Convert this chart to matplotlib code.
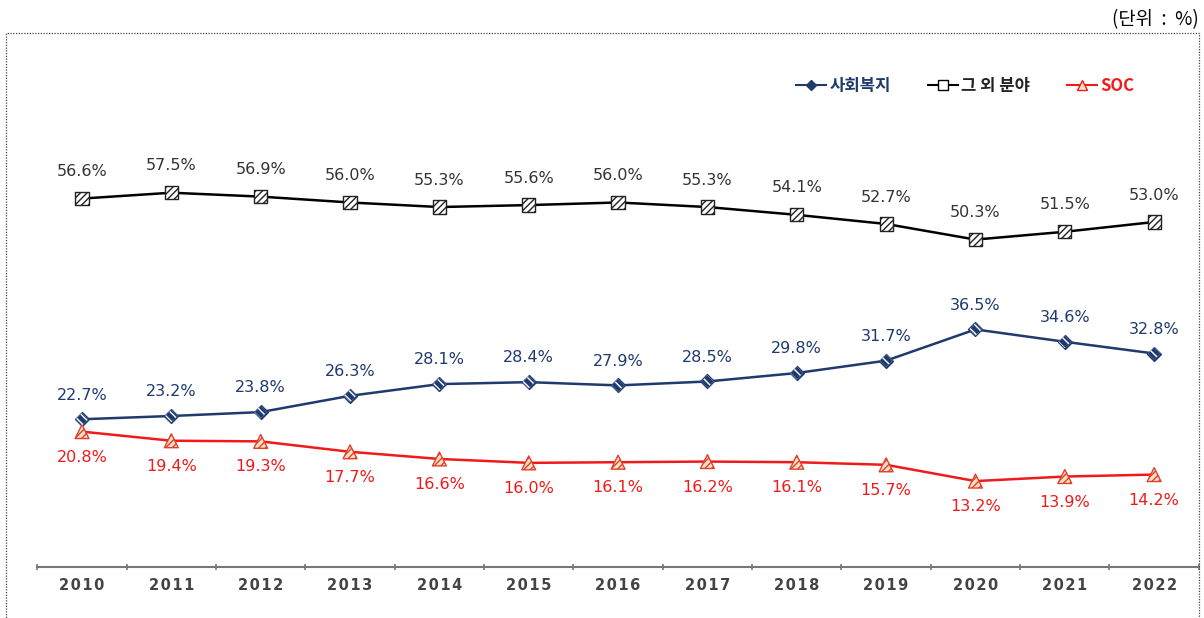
import matplotlib
matplotlib.use('agg')
import matplotlib.pyplot as plt
from matplotlib.patches import Rectangle
from matplotlib.lines import Line2D

plt.rcParams['font.family'] = ['Noto Sans CJK KR', 'DejaVu Sans']
plt.rcParams['hatch.linewidth'] = 1.0

years = [2010, 2011, 2012, 2013, 2014, 2015, 2016, 2017, 2018, 2019, 2020, 2021, 2022]
welfare = [22.7, 23.2, 23.8, 26.3, 28.1, 28.4, 27.9, 28.5, 29.8, 31.7, 36.5, 34.6, 32.8]
others = [56.6, 57.5, 56.9, 56.0, 55.3, 55.6, 56.0, 55.3, 54.1, 52.7, 50.3, 51.5, 53.0]
soc = [20.8, 19.4, 19.3, 17.7, 16.6, 16.0, 16.1, 16.2, 16.1, 15.7, 13.2, 13.9, 14.2]
series_names = ['사회복지', '그 외 분야', 'SOC']

NAVY = '#1f3a6e'
RED = '#f01a1a'
GRAY = '#333333'

fig = plt.figure(figsize=(12.04, 6.18), dpi=100)
ax = fig.add_axes([0.031, 0.0825, 0.9647, 0.79])

x = list(range(len(years)))

# black series: white squares with dark hatching
ax.plot(x, others, color='black', lw=1.8, zorder=2)
ax.scatter(x, others, marker='s', s=90, facecolor='white', edgecolor='#222222',
           hatch='/////', linewidths=1.0, zorder=3)

# navy series: filled diamonds with white stripes on top
ax.plot(x, welfare, color=NAVY, lw=1.8, zorder=2)
ax.scatter(x, welfare, marker='D', s=50, facecolor=NAVY, edgecolor=NAVY,
           linewidths=1.0, zorder=3)
ax.scatter(x, welfare, marker='D', s=40, facecolor='none', edgecolor='white',
           hatch='\\\\\\\\', linewidths=0.1, zorder=4)

# red series: light orange triangles with hatching
ax.plot(x, soc, color=RED, lw=1.8, zorder=2)
ax.scatter(x, soc, marker='^', s=100, facecolor='#ffe2c6', edgecolor='#e0402a',
           hatch='/////', linewidths=1.0, zorder=3)

for i in x:
    ax.annotate(f'{others[i]:.1f}%', (i, others[i]), xytext=(0, 14), textcoords='offset points',
                ha='center', va='bottom', fontsize=11.5, color=GRAY, family='DejaVu Sans')
    ax.annotate(f'{welfare[i]:.1f}%', (i, welfare[i]), xytext=(0, 12), textcoords='offset points',
                ha='center', va='bottom', fontsize=11.5, color=NAVY, family='DejaVu Sans')
    ax.annotate(f'{soc[i]:.1f}%', (i, soc[i]), xytext=(0, -13), textcoords='offset points',
                ha='center', va='top', fontsize=11.5, color=RED, family='DejaVu Sans')

ax.set_xlim(-0.5, len(years) - 0.5)
ax.set_ylim(0, 75)
ax.set_yticks([])
for s in ['top', 'right', 'left']:
    ax.spines[s].set_visible(False)
ax.spines['bottom'].set_color('#777777')
ax.spines['bottom'].set_linewidth(1.5)

ax.set_xticks([i - 0.5 for i in range(len(years) + 1)], minor=False)
ax.set_xticklabels([])
ax.tick_params(axis='x', which='major', length=4, width=1.2, color='#777777', direction='inout')
ax.set_xticks(x, minor=True)
ax.set_xticklabels(['\u200a'.join(str(y)) for y in years], minor=True)
ax.tick_params(axis='x', which='minor', length=0, pad=8, labelsize=10.5, labelcolor='#444444')
for lab in ax.get_xticklabels(minor=True):
    lab.set_family('DejaVu Sans')
    lab.set_fontweight('bold')

handles = [
    Line2D([], [], color=NAVY, lw=1.5, marker='D', markersize=5, markerfacecolor=NAVY,
           markeredgecolor=NAVY),
    Line2D([], [], color='black', lw=1.5, marker='s', markersize=6.5, markerfacecolor='white',
           markeredgecolor='black'),
    Line2D([], [], color=RED, lw=1.5, marker='^', markersize=7, markerfacecolor='#ffe2c6',
           markeredgecolor=RED),
]
leg = ax.legend(handles, series_names, loc='upper right', bbox_to_anchor=(0.957, 1.035), ncol=3,
                frameon=False, handlelength=1.8, handletextpad=0.2, columnspacing=2.2,
                prop={'size': 12, 'weight': 'bold'})
for t, c in zip(leg.get_texts(), [NAVY, '#222222', RED]):
    t.set_color(c)

fig.patches.append(Rectangle((6 / 1204, -0.05), 1193 / 1204, 1.05 - 33 / 618,
                             transform=fig.transFigure, fill=False, lw=0.9,
                             linestyle=(0, (1, 1.2)), edgecolor='#444444'))
fig.text(0.996, 0.968, '(단위  :  %)', ha='right', va='center', fontsize=13.5, color='black')

fig.savefig('out.png', dpi=100)
